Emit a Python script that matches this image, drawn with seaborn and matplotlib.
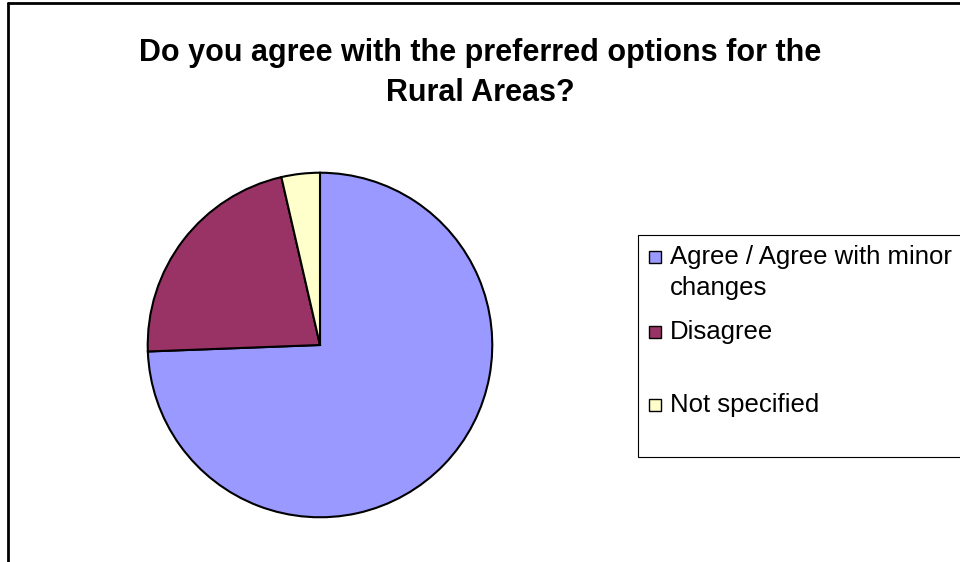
import matplotlib
matplotlib.use("Agg")
import matplotlib.pyplot as plt
import seaborn as sns
from matplotlib.lines import Line2D
from matplotlib.patches import Rectangle

# survey answers (share of responses, %)
categories = ["Agree / Agree with minor\nchanges", "Disagree", "Not specified"]
shares = [74.4, 22.0, 3.6]
colors = ["#9999FF", "#993366", "#FFFFCC"]
title = "Do you agree with the preferred options for the\nRural Areas?"

sns.set_theme(style="white")
plt.rcParams["font.family"] = ["Liberation Sans", "DejaVu Sans"]
plt.rcParams["text.color"] = "black"

W, H = 960, 562
fig = plt.figure(figsize=(W / 100, H / 100), dpi=100)

# pie axes placed in pixel terms: centre (320, 345), radius 174
cx, cy, r = 320, 345, 174
ax = fig.add_axes([(cx - r) / W, (H - cy - r) / H, 2 * r / W, 2 * r / H])
ax.pie(shares, colors=colors, startangle=90, counterclock=False,
       wedgeprops=dict(edgecolor="black", linewidth=1.5))
ax.set_xlim(-1.01, 1.01)
ax.set_ylim(-1.01, 1.01)
ax.axis("off")

fig.text(480 / W, 1 - 73 / H, title, ha="center", va="center",
         fontsize=22, fontweight="bold", linespacing=1.4)

# chart-area border (top and left edges visible)
fig.add_artist(Line2D([8 / W, 1], [1 - 3 / H, 1 - 3 / H], color="black", lw=2))
fig.add_artist(Line2D([8 / W, 8 / W], [0, 1 - 3 / H], color="black", lw=2))

# legend box drawn Excel-style
fig.add_artist(Rectangle((638 / W, 1 - 457 / H), 340 / W, 222 / H,
                         transform=fig.transFigure, facecolor="white",
                         edgecolor="black", lw=0.8))
ys = [257, 332, 405]
for lab, col, y in zip(categories, colors, ys):
    fig.add_artist(Rectangle((649 / W, 1 - (y + 6) / H), 12 / W, 12 / H,
                             transform=fig.transFigure, facecolor=col,
                             edgecolor="black", lw=1))
    fig.text(670 / W, 1 - (y - 12) / H, lab, ha="left", va="top",
             fontsize=18.5, linespacing=1.35)

fig.savefig("out.png", dpi=100)
